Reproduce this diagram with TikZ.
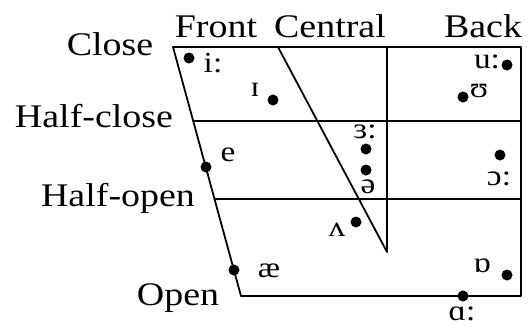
\documentclass[tikz,border=0pt]{standalone}
\usepackage{fontspec}
\setmainfont{Liberation Serif}
\newcommand{\bigtxt}[1]{\scalebox{1.15}[1]{\fontsize{33}{36}\selectfont #1}}
\newcommand{\ipatxt}[1]{\scalebox{1.15}[1]{\fontsize{29}{32}\selectfont #1}}
\begin{document}
\begin{tikzpicture}[x=1pt,y=-1pt,
  frame/.style={line width=1.8pt,line cap=round,line join=round},
  vdot/.style={circle,fill=black,inner sep=0pt,minimum size=11pt},
  axislabel/.style={anchor=base,inner sep=0pt},
  ipalabel/.style={anchor=base,inner sep=0pt}]
\useasboundingbox (0,0) rectangle (528,327);
% corners
\coordinate (TL) at (173,47);
\coordinate (TR) at (521,47);
\coordinate (BR) at (521,296);
\coordinate (BL) at (241,296);
\coordinate (HC) at (193.2,121);
\coordinate (HCR) at (521,121);
\coordinate (HO) at (214.5,199);
\coordinate (HOR) at (521,199);
\coordinate (CT) at (278,47);
\coordinate (CB) at (387,252);
\coordinate (VT) at (387,47);
% frame
\draw[frame] (TL) -- (TR) -- (BR) -- (BL) -- cycle;
\draw[frame] (HC) -- (HCR);
\draw[frame] (HO) -- (HOR);
\draw[frame] (CT) -- (CB) -- (VT);
% axis labels
\node[axislabel] (close) at (110,55) {\bigtxt{Close}};
\node[axislabel] (halfclose) at (94,127) {\bigtxt{Half-close}};
\node[axislabel] (halfopen) at (118,206) {\bigtxt{Half-open}};
\node[axislabel] (open) at (178,305) {\bigtxt{Open}};
\node[axislabel] (front) at (216,37) {\bigtxt{Front}};
\node[axislabel] (central) at (330,37) {\bigtxt{Central}};
\node[axislabel] (back) at (483,37) {\bigtxt{Back}};
% dots
\node[vdot] (di) at (189,58) {};
\node[vdot] (dI) at (273,100) {};
\node[vdot] (du) at (507,65) {};
\node[vdot] (dU) at (463,97) {};
\node[vdot] (de) at (206,167) {};
\node[vdot] (d3) at (366,149) {};
\node[vdot] (dschwa) at (366,170) {};
\node[vdot] (do) at (500,155) {};
\node[vdot] (dv) at (356,222) {};
\node[vdot] (dae) at (234,270) {};
\node[vdot] (dQ) at (507,275) {};
\node[vdot] (dA) at (463,296) {};
% IPA labels
\node[ipalabel] (li) at (213,72) {\ipatxt{i:}};
\node[ipalabel] (lI) at (255,96) {\ipatxt{ɪ}};
\node[ipalabel] (lu) at (487,68) {\ipatxt{u:}};
\node[ipalabel] (lU) at (479,97) {\ipatxt{ʊ}};
\node[ipalabel] (le) at (228,161) {\ipatxt{e}};
\node[ipalabel] (l3) at (365,138) {\ipatxt{ɜ:}};
\node[ipalabel] (lschwa) at (368,193) {\ipatxt{ə}};
\node[ipalabel] (lo) at (499,185) {\ipatxt{ɔ:}};
\node[ipalabel] (lv) at (337,236) {\ipatxt{ʌ}};
\node[ipalabel] (lae) at (269,277) {\ipatxt{æ}};
\node[ipalabel] (lQ) at (482,272) {\ipatxt{ɒ}};
\node[ipalabel] (lA) at (462,320) {\ipatxt{ɑ:}};
\end{tikzpicture}
\end{document}
